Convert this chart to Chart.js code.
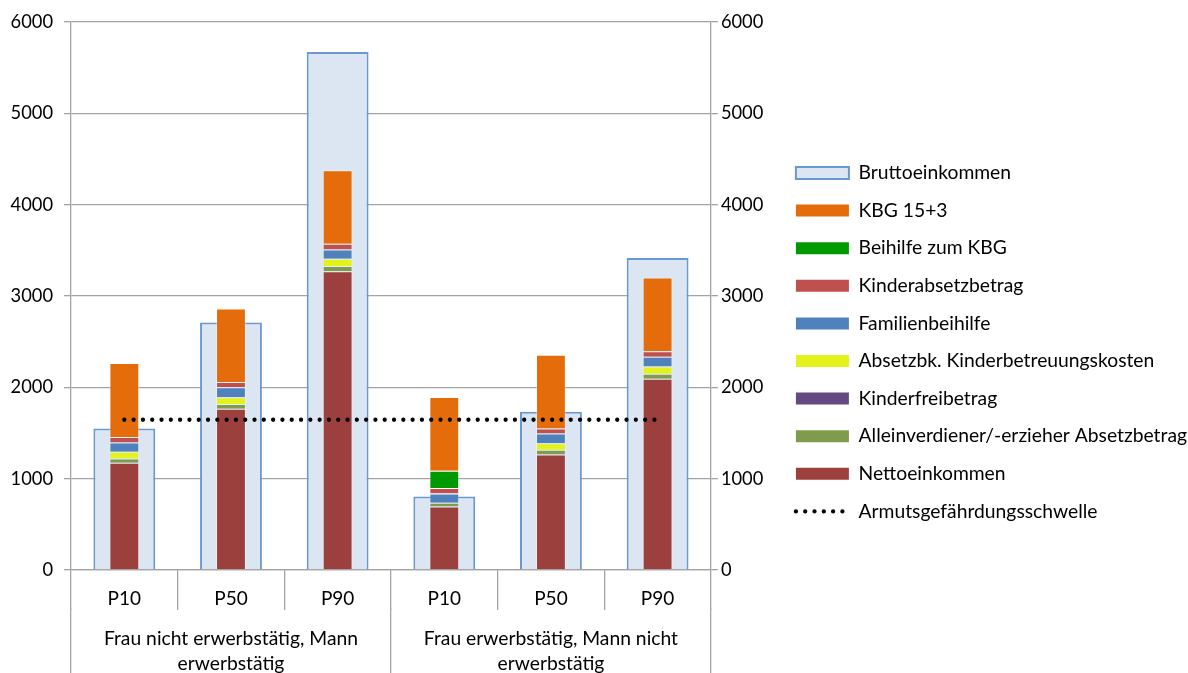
<!DOCTYPE html>
<html>
<head>
<meta charset="utf-8">
<script src="https://cdn.jsdelivr.net/npm/chart.js@4.4.0/dist/chart.umd.min.js"></script>
<style>
  html, body { margin: 0; padding: 0; background: #fff; }
</style>
</head>
<body>
<canvas id="chart" width="1188" height="673"></canvas>
<script>
// categories and the two groups under them
const categories = ['P10', 'P50', 'P90', 'P10', 'P50', 'P90'];
const groups = [
  ['Frau nicht erwerbstätig, Mann', 'erwerbstätig'],
  ['Frau erwerbstätig, Mann nicht', 'erwerbstätig']
];
const yTicks = [0, 1000, 2000, 3000, 4000, 5000, 6000];

// values (EUR per month)
const brutto       = [1550, 2709, 5671,  804, 1733, 3415];
const netto        = [1174, 1766, 3272,  695, 1265, 2095];
const alleinverd   = [  47,   51,   55,   40,   51,   55];
const kinderfrei   = [   0,    0,    0,    0,    0,    0];
const absetzbk     = [  73,   73,   81,    0,   73,   77];
const familienbh   = [ 102,  110,  102,  102,  106,  109];
const kinderabsetz = [  59,   59,   62,   62,   55,   59];
const beihilfeKbg  = [   0,    0,    0,  187,    0,    0];
const kbg          = [ 812,  804,  804,  808,  808,  808];
const armutsgrenze = [1645, 1645, 1645, 1645, 1645, 1645];

const FONT = 'Lato';
const GRID = '#a3a3a3';
const LEGEND_SIZE = 19.3;

const stackBar = (label, data, color) => ({
  type: 'bar', label, data, stack: 'netto', grouped: false, order: 1,
  backgroundColor: color, borderColor: 'rgba(255,255,255,0.35)', borderWidth: 1,
  categoryPercentage: 1, barPercentage: 0.28
});

const datasets = [
  {
    type: 'line', label: 'Armutsgefährdungsschwelle', data: armutsgrenze, order: 0,
    borderColor: '#000', borderWidth: 4.3, borderDash: [0, 9.3], borderCapStyle: 'round',
    pointRadius: 0, fill: false
  },
  stackBar('Nettoeinkommen', netto, '#9C403E'),
  stackBar('Alleinverdiener/-erzieher Absetzbetrag', alleinverd, '#7F9C4D'),
  stackBar('Kinderfreibetrag', kinderfrei, '#654A82'),
  stackBar('Absetzbk. Kinderbetreuungskosten', absetzbk, '#E3F21A'),
  stackBar('Familienbeihilfe', familienbh, '#4F81BD'),
  stackBar('Kinderabsetzbetrag', kinderabsetz, '#C0504D'),
  stackBar('Beihilfe zum KBG', beihilfeKbg, '#009A00'),
  stackBar('KBG 15+3', kbg, '#E46C0A'),
  {
    type: 'bar', label: 'Bruttoeinkommen', data: brutto, stack: 'brutto', grouped: false, order: 2,
    backgroundColor: '#DCE6F2', borderColor: '#6A98D0', borderWidth: 2,
    categoryPercentage: 1, barPercentage: 0.58
  }
];

const legendOrder = [
  'Bruttoeinkommen', 'KBG 15+3', 'Beihilfe zum KBG', 'Kinderabsetzbetrag', 'Familienbeihilfe',
  'Absetzbk. Kinderbetreuungskosten', 'Kinderfreibetrag',
  'Alleinverdiener/-erzieher Absetzbetrag', 'Nettoeinkommen', 'Armutsgefährdungsschwelle'
];

// keep the legend column where the picture has it
const ctx = document.getElementById('chart').getContext('2d');
ctx.font = LEGEND_SIZE + 'px ' + FONT;
const longest = Math.max(...legendOrder.map(t => ctx.measureText(t).width));
const legendGap = 37.6 - LEGEND_SIZE;
const legendWidth = legendGap + 53 + LEGEND_SIZE / 2 + longest + 1;
const padRight = Math.max(0, 1188 - (797 - legendGap) - legendWidth);

new Chart(ctx, {
  data: { labels: categories, datasets },
  options: {
    responsive: false,
    animation: false,
    layout: { padding: { left: 0, right: padRight, top: 11.4, bottom: 0 } },
    plugins: {
      tooltip: { enabled: false },
      legend: {
        position: 'right',
        align: 'center',
        maxWidth: legendWidth,
        labels: {
          usePointStyle: true,
          pointStyleWidth: 53,
          boxHeight: 12,
          padding: legendGap,
          color: '#000',
          font: { family: FONT, size: LEGEND_SIZE },
          generateLabels: chart => legendOrder.map(name => {
            const i = chart.data.datasets.findIndex(d => d.label === name);
            const d = chart.data.datasets[i];
            if (d.type === 'line') {
              return {
                text: name, datasetIndex: i, pointStyle: 'line', fillStyle: '#000',
                strokeStyle: '#000', lineWidth: 4.3, lineDash: [0, 9.3], lineCap: 'round'
              };
            }
            return {
              text: name, datasetIndex: i, pointStyle: 'rect', fillStyle: d.backgroundColor,
              strokeStyle: d.borderColor, lineWidth: name === 'Bruttoeinkommen' ? 2 : 0
            };
          })
        }
      }
    },
    scales: {
      x: {
        type: 'category', position: 'bottom', weight: 0,
        afterFit: s => { s.height = 38.4; },
        grid: { offset: true, drawOnChartArea: false, tickLength: 40, color: GRID, lineWidth: 1.3 },
        border: { color: GRID, width: 1.3 },
        ticks: {
          autoSkip: false, maxRotation: 0, padding: -23, color: '#000',
          font: { family: FONT, size: 19, lineHeight: 1.2 }
        }
      },
      x2: {
        type: 'category', position: 'bottom', weight: 1, labels: groups, offset: true,
        afterFit: s => { s.height = 64.6; },
        grid: { offset: true, drawOnChartArea: false, tickLength: 70, color: GRID, lineWidth: 1.3 },
        border: { display: false },
        ticks: {
          autoSkip: false, maxRotation: 0, padding: -53, color: '#000',
          font: { family: FONT, size: LEGEND_SIZE, lineHeight: 1.34 }
        }
      },
      y: {
        position: 'left', stacked: true, min: 0, max: 6000,
        afterFit: s => { s.width = 71; },
        afterBuildTicks: s => { s.ticks = yTicks.map(v => ({ value: v })); },
        grid: { color: GRID, lineWidth: 1.3, tickLength: 7 },
        border: { color: GRID, width: 1.3 },
        ticks: { padding: 11, color: '#000', font: { family: FONT, size: 18.3 }, callback: v => String(v) }
      },
      y2: {
        position: 'right', min: 0, max: 6000,
        afterFit: s => { s.width = 797 - legendGap - 712; },
        afterBuildTicks: s => { s.ticks = yTicks.map(v => ({ value: v })); },
        grid: { drawOnChartArea: false, color: GRID, lineWidth: 1.3, tickLength: 7 },
        border: { color: GRID, width: 1.3 },
        ticks: { padding: 3, color: '#000', font: { family: FONT, size: 18.3 }, callback: v => String(v) }
      }
    }
  }
});
</script>
</body>
</html>
